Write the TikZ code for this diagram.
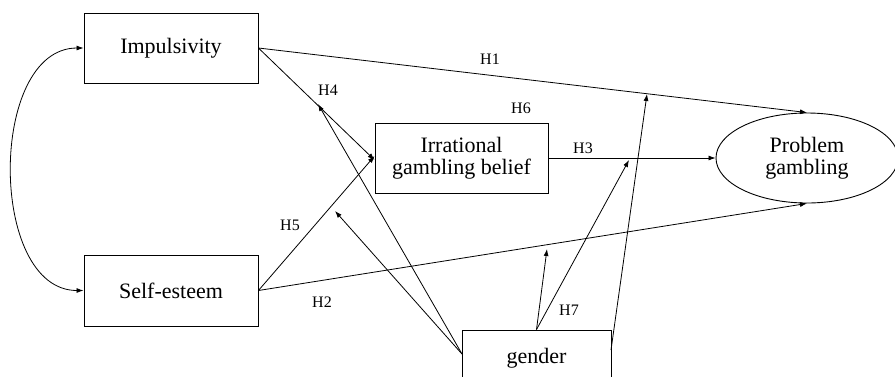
\documentclass[tikz,border=0pt]{standalone}
\usepackage{fontspec}
\setmainfont{Liberation Serif}
\usetikzlibrary{arrows.meta,shapes.geometric}
\begin{document}
\begin{tikzpicture}[x=1pt,y=-1pt,
  box/.style={draw,line width=0.9pt,rectangle,inner sep=0pt,font=\fontsize{22}{25}\selectfont,align=center},
  oval/.style={draw,line width=0.9pt,ellipse,inner sep=0pt,minimum width=182pt,minimum height=90pt,font=\fontsize{22}{25}\selectfont,align=center},
  lab/.style={font=\fontsize{16}{18}\selectfont},
  arr/.style={line width=0.8pt,-{Latex[length=7pt,width=5pt]}},
  darr/.style={line width=0.8pt,{Latex[length=7pt,width=5pt]}-{Latex[length=7pt,width=5pt]}}]
\useasboundingbox (0,0) rectangle (895,376);
\clip (0,0) rectangle (895,376);
\node[box,minimum width=174pt,minimum height=70pt] (imp) at (171,48) {Impulsivity};
\node[box,minimum width=174pt,minimum height=71pt] (se) at (171,290.5) {Self-esteem};
\node[box,minimum width=173pt,minimum height=70pt] (irr) at (461.5,158) {Irrational\\[-3pt]gambling belief};
\node[oval] (pg) at (807,158) {Problem\\[-3pt]gambling};
\node[box,minimum width=149pt,minimum height=56pt] (gender) at (536.5,358) {gender};
% free-end coordinates
\coordinate (t4) at (318,104);
\coordinate (t5) at (335,211);
\coordinate (t2) at (547,249);
\coordinate (t3) at (629,160);
\coordinate (t1) at (647,94);
\coordinate (gl) at (462,354);
\coordinate (gr) at (611,350);
% connectors
\draw[darr] (imp.west) .. controls (-12,48) and (-12,290.5) .. (se.west);
\draw[arr] (imp.east) -- (pg.north);
\draw[arr] (imp.east) -- ([yshift=-2pt]irr.west);
\draw[arr] (se.east) -- ([yshift=2pt]irr.west);
\draw[arr] (se.east) -- (pg.south);
\draw[arr] (irr.east) -- (pg.west);
\draw[arr] (gl) -- (t4);
\draw[arr] (gl) -- (t5);
\draw[arr] (gender.north) -- (t2);
\draw[arr] (gender.north) -- (t3);
\draw[arr] (gr) -- (t1);
% labels
\node[lab] (h1) at (490,59) {H1};
\node[lab] (h4) at (328,90) {H4};
\node[lab] (h6) at (521,108) {H6};
\node[lab] (h3) at (583,148) {H3};
\node[lab] (h5) at (290,225) {H5};
\node[lab] (h2) at (322,302) {H2};
\node[lab] (h7) at (569,310) {H7};
\end{tikzpicture}
\end{document}
